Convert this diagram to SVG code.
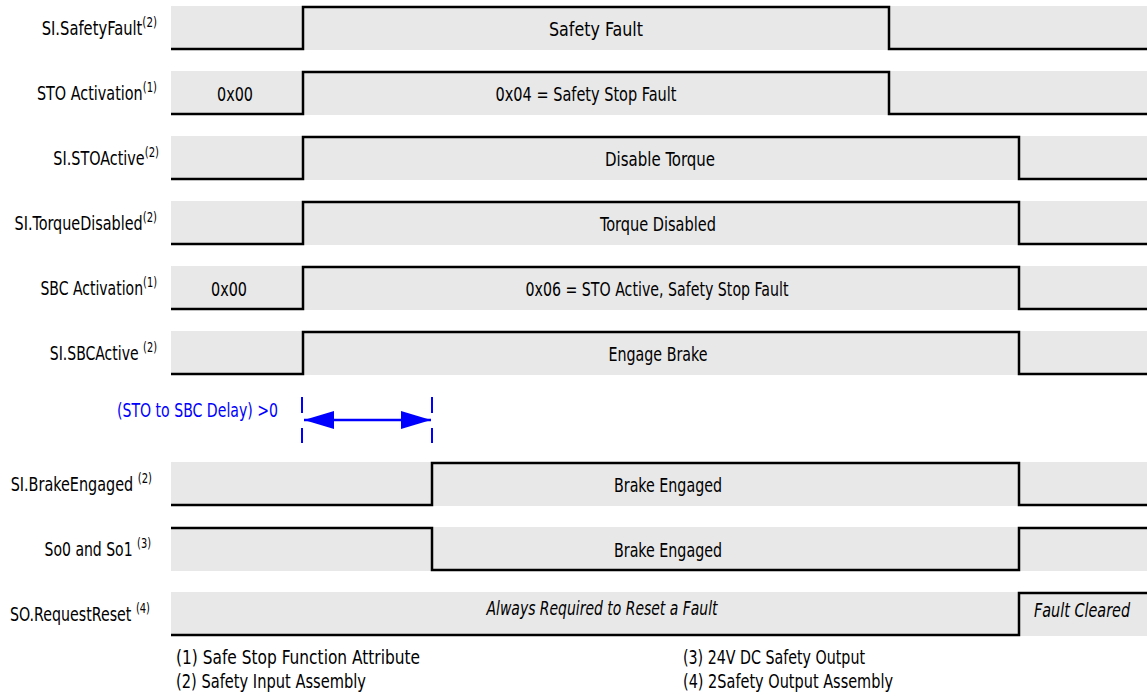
<svg xmlns="http://www.w3.org/2000/svg" width="1147" height="700" viewBox="0 0 1147 700">
<style>
.band{fill:#e8e8e8}
.wave{fill:none;stroke:#000;stroke-width:2.5;stroke-linejoin:miter}
text{font-family:"DejaVu Sans Condensed","DejaVu Sans","Liberation Sans",sans-serif;font-size:20px;fill:#000}
.lbl{text-anchor:end}
.val{text-anchor:middle}
.it{font-style:italic}
.sup{font-size:14px}
.blue{fill:#0000ff}
.dash{stroke:#0000ff;stroke-width:2;stroke-dasharray:16 15 15 100;fill:none}
.arrow{stroke:#0000ff;stroke-width:2.5;fill:none}
</style>
<defs>
<marker id="ah" viewBox="0 0 30 18" refX="30" refY="9" markerWidth="30" markerHeight="18" markerUnits="userSpaceOnUse" orient="auto-start-reverse">
<path d="M0,0 L30,9 L0,18 Z" fill="#0000ff"/>
</marker>
</defs>
<rect width="1147" height="700" fill="#fff"/>

<g id="row-safetyfault">
<rect class="band" x="171" y="6" width="976" height="44"/>
<text class="lbl" transform="translate(157,35) scale(0.82,1)">SI.SafetyFault<tspan class="sup" dy="-8">(2)</tspan></text>
<text class="val" x="596" y="36" textLength="94" lengthAdjust="spacingAndGlyphs">Safety Fault</text>
</g>
<g id="row-stoactivation">
<rect class="band" x="171" y="71" width="976" height="44"/>
<text class="lbl" transform="translate(157,100) scale(0.8,1)">STO Activation<tspan class="sup" dy="-8">(1)</tspan></text>
<text class="val" x="235" y="101" textLength="36" lengthAdjust="spacingAndGlyphs">0x00</text>
<text class="val" x="586" y="101" textLength="181" lengthAdjust="spacingAndGlyphs">0x04 = Safety Stop Fault</text>
</g>
<g id="row-stoactive">
<rect class="band" x="171" y="136" width="976" height="44"/>
<text class="lbl" transform="translate(159,165) scale(0.8,1)">SI.STOActive<tspan class="sup" dy="-8">(2)</tspan></text>
<text class="val" x="660" y="166" textLength="110" lengthAdjust="spacingAndGlyphs">Disable Torque</text>
</g>
<g id="row-torquedisabled">
<rect class="band" x="171" y="201" width="976" height="44"/>
<text class="lbl" transform="translate(157,230) scale(0.8,1)">SI.TorqueDisabled<tspan class="sup" dy="-8">(2)</tspan></text>
<text class="val" x="658" y="231" textLength="116" lengthAdjust="spacingAndGlyphs">Torque Disabled</text>
</g>
<g id="row-sbcactivation">
<rect class="band" x="171" y="266" width="976" height="44"/>
<text class="lbl" transform="translate(157,295) scale(0.78,1)">SBC Activation<tspan class="sup" dy="-8">(1)</tspan></text>
<text class="val" x="229" y="296" textLength="36" lengthAdjust="spacingAndGlyphs">0x00</text>
<text class="val" x="657" y="296" textLength="263" lengthAdjust="spacingAndGlyphs">0x06 = STO Active, Safety Stop Fault</text>
</g>
<g id="row-sbcactive">
<rect class="band" x="171" y="331" width="976" height="44"/>
<text class="lbl" transform="translate(157,360) scale(0.78,1)">SI.SBCActive <tspan class="sup" dy="-8">(2)</tspan></text>
<text class="val" x="658" y="361" textLength="99" lengthAdjust="spacingAndGlyphs">Engage Brake</text>
</g>
<g id="delay">
<text class="blue" x="117" y="417" textLength="161" lengthAdjust="spacingAndGlyphs">(STO to SBC Delay) &gt;0</text>
<path class="dash" d="M302,397 V443 M432,397 V443"/>
<path class="arrow" d="M304,420 H431" marker-start="url(#ah)" marker-end="url(#ah)"/>
</g>
<g id="row-brakeengaged">
<rect class="band" x="171" y="462" width="976" height="44"/>
<text class="lbl" transform="translate(152,491) scale(0.8,1)">SI.BrakeEngaged <tspan class="sup" dy="-8">(2)</tspan></text>
<text class="val" x="668" y="492" textLength="108" lengthAdjust="spacingAndGlyphs">Brake Engaged</text>
</g>
<g id="row-so0so1">
<rect class="band" x="171" y="527" width="976" height="44"/>
<text class="lbl" transform="translate(151,556) scale(0.78,1)">So0 and So1 <tspan class="sup" dy="-8">(3)</tspan></text>
<text class="val" x="668" y="557" textLength="108" lengthAdjust="spacingAndGlyphs">Brake Engaged</text>
</g>
<g id="row-requestreset">
<rect class="band" x="171" y="592" width="976" height="44"/>
<text class="lbl" transform="translate(150,621) scale(0.79,1)">SO.RequestReset <tspan class="sup" dy="-8">(4)</tspan></text>
<text class="val it" x="602" y="615" textLength="231" lengthAdjust="spacingAndGlyphs">Always Required to Reset a Fault</text>
<text class="val it" transform="translate(1082,617) scale(0.8,1)">Fault Cleared</text>
</g>

<g id="connectors">
<path class="wave" d="M171,49 H303 V7 H889 V49 H1147"/>
<path class="wave" d="M171,114 H303 V72 H889 V114 H1147"/>
<path class="wave" d="M171,179 H303 V137 H1019 V179 H1147"/>
<path class="wave" d="M171,244 H303 V202 H1019 V244 H1147"/>
<path class="wave" d="M171,309 H303 V267 H1019 V309 H1147"/>
<path class="wave" d="M171,374 H303 V332 H1019 V374 H1147"/>
<path class="wave" d="M171,505 H432 V463 H1019 V505 H1147"/>
<path class="wave" d="M171,528 H432 V570 H1019 V528 H1147"/>
<path class="wave" d="M171,635 H1019 V593 H1147"/>
</g>

<g id="notes">
<text x="176" y="664" textLength="244" lengthAdjust="spacingAndGlyphs">(1) Safe Stop Function Attribute</text>
<text x="176" y="688" textLength="190" lengthAdjust="spacingAndGlyphs">(2) Safety Input Assembly</text>
<text x="683" y="664" textLength="182" lengthAdjust="spacingAndGlyphs">(3) 24V DC Safety Output</text>
<text x="683" y="688" textLength="210" lengthAdjust="spacingAndGlyphs">(4) 2Safety Output Assembly</text>
</g>
</svg>
